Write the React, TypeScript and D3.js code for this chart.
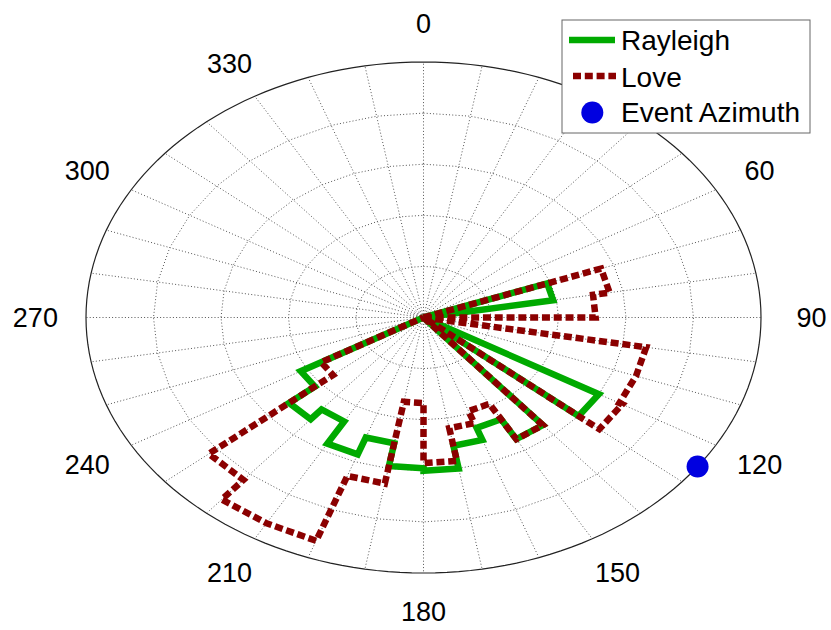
import React from 'react';
import * as d3 from 'd3';

// Azimuth bins (degrees, start of each 10° bin)
const binStart: number[] = [
  0, 10, 20, 30, 40, 50, 60, 70, 80, 90, 100, 110, 120, 130, 140, 150, 160, 170,
  180, 190, 200, 210, 220, 230, 240, 250, 260, 270, 280, 290, 300, 310, 320, 330, 340, 350,
];
const binWidth = 10;

// Normalised counts per bin
const rayleigh: number[] = [
  0, 0, 0, 0, 0, 0, 0, 0.39, 0, 0, 0, 0, 0.6, 0, 0.55, 0.46, 0.51, 0.6,
  0.59, 0.5, 0.57, 0.47, 0.52, 0.42, 0, 0, 0, 0, 0, 0, 0, 0, 0, 0, 0, 0,
];
const love: number[] = [
  0, 0, 0, 0, 0, 0, 0, 0.56, 0.51, 0, 0.67, 0.67, 0.68, 0, 0.55, 0.39, 0.44, 0.57,
  0.335, 0.66, 0.93, 0.93, 0.83, 0.35, 0, 0, 0, 0, 0, 0, 0, 0, 0, 0, 0, 0,
];

const eventAzimuth = 125.7;

// Angle labels (the 30° label sits under the legend box)
const tickAngles: number[] = [0, 60, 90, 120, 150, 180, 210, 240, 270, 300, 330];
const tickLabels: string[] = ['0', '60', '90', '120', '150', '180', '210', '240', '270', '300', '330'];
const spokeAngles: number[] = d3.range(0, 360, 10);
const ringLevels: number[] = [0.2, 0.4, 0.6, 0.8];

const W = 831;
const H = 630;
const cx = 423.5;
const cy = 317.5;
const Rx = 337.5;
const Ry = 255.5;
const rMax = 1;

const sx = d3.scaleLinear().domain([0, rMax]).range([0, Rx]);
const sy = d3.scaleLinear().domain([0, rMax]).range([0, Ry]);

const pt = (deg: number, r: number): [number, number] => {
  const a = (deg * Math.PI) / 180;
  return [cx + sx(r) * Math.sin(a), cy - sy(r) * Math.cos(a)];
};

// Outline of a rose histogram: each run of non-empty bins is a closed stair polygon from the centre
function rosePath(values: number[]): string {
  const path = d3.path();
  let open = false;
  values.forEach((v, i) => {
    const a0 = binStart[i];
    const a1 = a0 + binWidth;
    if (v > 0) {
      if (!open) {
        path.moveTo(cx, cy);
        open = true;
      }
      path.lineTo(...pt(a0, v));
      path.lineTo(...pt(a1, v));
    } else if (open) {
      path.lineTo(cx, cy);
      open = false;
    }
  });
  if (open) path.lineTo(cx, cy);
  return path.toString();
}

const ringPath = (lvl: number): string => {
  const line = d3.line();
  const pts = spokeAngles.map((a) => pt(a, lvl));
  return line(pts) + 'Z';
};

const outerPath = (): string => {
  const pts = d3.range(0, 361, 2).map((a) => pt(a, rMax));
  return d3.line()(pts as [number, number][]) as string;
};

const GREEN = '#00aa00';
const RED = '#8b0000';
const BLUE = '#0000e0';
const FONT = '"Liberation Sans", Arial, Helvetica, sans-serif';

export default function App() {
  const ev = pt(eventAzimuth, rMax);
  return (
    <svg
      width={W}
      height={H}
      viewBox={`0 0 ${W} ${H}`}
      style={{ position: 'absolute', left: 0, top: 0, background: '#fff' }}
      fontFamily={FONT}
    >
      <rect x={0} y={0} width={W} height={H} fill="#fff" />
      {/* grid */}
      <g stroke="#555" strokeWidth={1} strokeDasharray="1 2.2" fill="none">
        {spokeAngles.map((a) => {
          const [x, y] = pt(a, rMax);
          return <line key={a} x1={cx} y1={cy} x2={x} y2={y} />;
        })}
        {ringLevels.map((l) => (
          <path key={l} d={ringPath(l)} />
        ))}
      </g>
      <path d={outerPath()} fill="none" stroke="#222" strokeWidth={1.2} />

      {/* angle labels */}
      <g fontSize={27} fill="#000" textAnchor="middle">
        {tickAngles.map((a, i) => {
          const [x, y] = pt(a, rMax * 1.15);
          return (
            <text key={a} x={x} y={y + 9.7}>
              {tickLabels[i]}
            </text>
          );
        })}
      </g>

      {/* histograms */}
      <path
        d={rosePath(rayleigh)}
        fill="none"
        stroke={GREEN}
        strokeWidth={6.5}
        strokeLinejoin="miter"
        strokeMiterlimit={2}
      />
      <path
        d={rosePath(love)}
        fill="none"
        stroke={RED}
        strokeWidth={6.5}
        strokeDasharray="8 3.8"
        strokeLinejoin="miter"
        strokeMiterlimit={2}
      />
      <circle cx={ev[0]} cy={ev[1]} r={11} fill={BLUE} />

      {/* legend */}
      <g>
        <rect x={562} y={20} width={248} height={113} fill="#fff" stroke="#666" strokeWidth={1} />
        <line x1={569} y1={40} x2={615} y2={40} stroke={GREEN} strokeWidth={6.5} />
        <text x={621} y={50} fontSize={28}>Rayleigh</text>
        <line x1={573} y1={76} x2={616} y2={76} stroke={RED} strokeWidth={6.5} strokeDasharray="8 3.8" />
        <text x={621} y={87} fontSize={28}>Love</text>
        <circle cx={592.3} cy={112.5} r={11} fill={BLUE} />
        <text x={621} y={121.5} fontSize={28}>Event Azimuth</text>
      </g>
    </svg>
  );
}
